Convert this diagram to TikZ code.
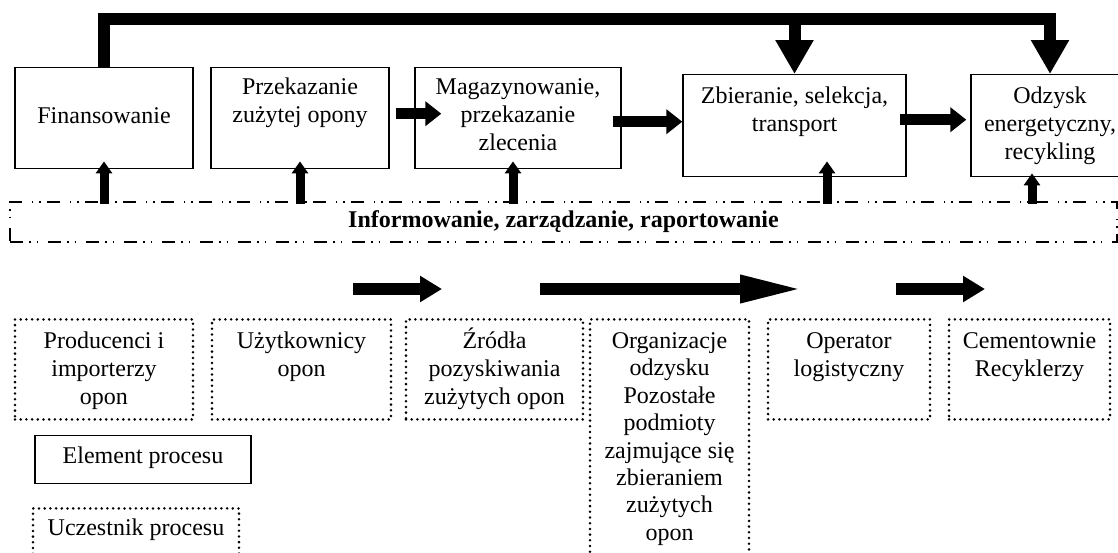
\documentclass[tikz,border=0pt]{standalone}
\usepackage{fontspec}
\setmainfont{Liberation Serif}
\usetikzlibrary{arrows.meta, calc}

% wiersze wyrownane do gory ramki
\newcommand{\wiersze}[1]{\begin{tabular}[t]{@{}c@{}}#1\end{tabular}}

\begin{document}
\begin{tikzpicture}[x=0.5pt, y=-0.5pt,
    every node/.style={font=\fontsize{12}{14}\selectfont},
    elem/.style={draw, line width=0.7pt, inner xsep=2pt, inner ysep=0pt, anchor=north, text height=13.5pt, text depth=37pt},
    member/.style={elem, dash pattern=on 0pt off 2.85pt, line cap=round, line width=1.4pt, text height=14.5pt, text depth=35.5pt},
    band/.style={draw, line width=0.8pt, dash pattern=on 6.5pt off 3pt on 0.8pt off 3pt on 0.8pt off 4.9pt, minimum width=553.5pt, minimum height=20pt, inner sep=0pt, font=\fontsize{12}{14}\selectfont\bfseries},
    bus/.style={line width=6pt, -{Triangle[length=17pt, width=18pt]}},
    flow/.style={line width=5.5pt, -{Triangle[length=8pt, width=12pt]}},
    feed/.style={line width=4.5pt, -{Triangle[length=6pt, width=8pt]}},
    chain/.style={line width=6pt, -{Triangle[length=11pt, width=12.5pt]}}
]
    \useasboundingbox (0,0) rectangle (1118,552);

    % elementy procesu
    \node[elem, minimum width=89pt, text height=27.7pt, text depth=22.8pt] (fin) at (104,67) {Finansowanie};
    \node[elem, minimum width=89pt] (przek) at (300,67) {\wiersze{Przekazanie\\zużytej opony}};
    \node[elem, minimum width=103pt] (magaz) at (518,67) {\wiersze{Magazynowanie,\\przekazanie\\zlecenia}};
    \node[elem, minimum width=111.5pt, text height=14.2pt, text depth=36.8pt] (zbier) at (794.5,74) {\wiersze{Zbieranie, selekcja,\\transport}};
    \node[elem, minimum width=79pt, text height=14.2pt, text depth=36.8pt] (odzysk) at (1050,74) {\wiersze{Odzysk\\energetyczny,\\recykling}};

    \node[band] (info) at (563.5,222) {Informowanie, zarządzanie, raportowanie};

    % uczestnicy procesu
    \node[member, minimum width=89pt] (prod) at (104,318) {\wiersze{Producenci i\\importerzy\\opon}};
    \node[member, minimum width=89.5pt] (uzyt) at (301.5,318) {\wiersze{Użytkownicy\\opon}};
    \node[member, minimum width=88.5pt] (zrod) at (494.5,318) {\wiersze{Źródła\\pozyskiwania\\zużytych opon}};
    \node[member, minimum width=79.5pt, text depth=106.5pt, font=\fontsize{12}{13.7}\selectfont] (org) at (669.5,318) {\wiersze{Organizacje\\odzysku\\Pozostałe\\podmioty\\zajmujące się\\zbieraniem\\zużytych\\opon}};
    \node[member, minimum width=81pt] (oper) at (849,318) {\wiersze{Operator\\logistyczny}};
    \node[member, minimum width=80.5pt] (cem) at (1029.5,318) {\wiersze{Cementownie\\Recyklerzy}};

    % legenda
    \node[elem, minimum width=108pt, text height=13.7pt, text depth=10.3pt] (legelem) at (143,435) {Element procesu};
    \node[member, minimum width=103pt, text height=13.7pt, text depth=11.3pt] (legmem) at (136,507) {Uczestnik procesu};

    % finansowanie trafia do zbierania i odzysku
    \draw[bus] (fin.north) -- ++(0,-48) coordinate (bend) -| (odzysk.north);
    \draw[bus] (zbier.north |- bend) -- (zbier.north);

    \draw[flow] ($(przek.east)+(6,-4.5)$) -- ($(magaz.west)+(27,-4.5)$);
    \draw[flow] ($(magaz.east)+(-9,3.5)$) -- ($(zbier.west)+(0,-4)$);
    \draw[flow] ($(zbier.east)+(-7,-6)$) -- ($(odzysk.west)+(-4,-6)$);

    \draw[feed] ($(fin.south |- info.north)+(0,3)$) -- ($(fin.south)+(0,-8)$);
    \draw[feed] ($(przek.south |- info.north)+(0,3)$) -- ($(przek.south)+(0,-8)$);
    \draw[feed] ($(magaz.south |- info.north)+(-5,3)$) -- ($(magaz.south)+(-5,-8)$);
    \draw[feed] ($(zbier.south |- info.north)+(32.5,3)$) -- ($(zbier.south)+(32.5,-16)$);
    \draw[feed] ($(odzysk.south |- info.north)+(-18,3)$) -- ($(odzysk.south)+(-18,-4)$);

    \coordinate (c1) at (353,289);
    \coordinate (c2) at (442,289);
    \coordinate (c3) at (540,289);
    \coordinate (c4) at (805,289);
    \coordinate (c5) at (896,289);
    \coordinate (c6) at (985,289);
    \draw[chain] (c1) -- (c2);
    \draw[chain, -{Triangle[length=32.5pt, width=12.5pt]}] (c3) -- (c4);
    \draw[chain] (c5) -- (c6);
\end{tikzpicture}
\end{document}
